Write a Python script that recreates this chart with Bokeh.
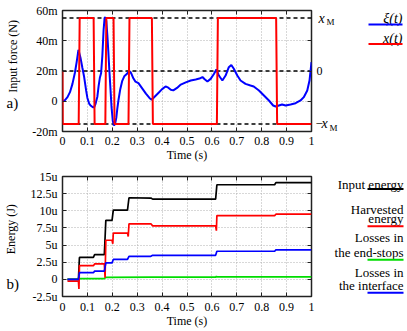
import math
from bokeh.plotting import figure
from bokeh.layouts import column, row
from bokeh.models import Range1d, LinearAxis, FixedTicker
from bokeh.core.properties import value
from bokeh.embed import file_html
from bokeh.resources import INLINE

FONT = "'Liberation Serif'"

# ---------------- ticks / labels ----------------
time_ticks = [0.0, 0.1, 0.2, 0.3, 0.4, 0.5, 0.6, 0.7, 0.8, 0.9, 1.0]
time_labels = ["0", "0.1", "0.2", "0.3", "0.4", "0.5", "0.6", "0.7", "0.8", "0.9", "1"]
force_ticks = [-20, 0, 20, 40, 60]
force_labels = ["-20m", "0", "20m", "40m", "60m"]
energy_ticks = [-2.5, 0, 2.5, 5, 7.5, 10, 12.5, 15]
energy_labels = ["-2.5u", "0", "2.5u", "5u", "7.5u", "10u", "12.5u", "15u"]

# ---------------- a) input force xi(t) [mN] ----------------
xi_t = [0.0, 0.01, 0.02, 0.03, 0.04, 0.05, 0.057, 0.064, 0.072, 0.08, 0.087, 0.095,
        0.1, 0.107, 0.114, 0.122, 0.127, 0.133, 0.14, 0.145, 0.15, 0.155, 0.16, 0.165,
        0.169, 0.172, 0.176, 0.18, 0.184, 0.188, 0.192, 0.197, 0.202, 0.207, 0.211,
        0.216, 0.22, 0.225, 0.232, 0.24, 0.248, 0.258, 0.268, 0.276, 0.285, 0.293,
        0.305, 0.32, 0.335, 0.35, 0.358, 0.37, 0.385, 0.4, 0.414, 0.425, 0.435, 0.445,
        0.46, 0.475, 0.495, 0.515, 0.535, 0.55, 0.562, 0.571, 0.582, 0.595, 0.608,
        0.618, 0.628, 0.642, 0.655, 0.668, 0.678, 0.688, 0.702, 0.715, 0.735, 0.755,
        0.768, 0.789, 0.809, 0.829, 0.846, 0.856, 0.869, 0.882, 0.896, 0.916, 0.936,
        0.956, 0.969, 0.983, 0.992, 1.0]
xi_mN = [0.0, 0.8, 2.7, 6.0, 11.5, 19.0, 26.0, 34.0, 29.0, 22.0, 16.0, 7.0,
         2.2, -1.5, -3.0, -4.0, -4.0, -1.5, 3.0, 10.0, 15.5, 18.5, 30.0, 47.0,
         55.0, 55.5, 53.0, 44.0, 33.0, 21.0, 10.0, -4.0, -13.0, -16.0, -15.0,
         -11.0, -5.0, 1.0, 8.0, 13.5, 16.5, 18.0, 20.0, 18.5, 15.0, 13.0,
         12.0, 8.5, 5.0, 2.0, 1.0, 3.0, 5.5, 8.0, 9.8, 9.0, 7.6, 7.2,
         8.8, 11.0, 12.5, 13.7, 14.4, 15.0, 16.0, 14.5, 13.0, 14.8, 18.0,
         21.0, 17.0, 13.7, 17.0, 22.5, 24.0, 21.5, 17.0, 13.7, 11.5, 10.4,
         9.8, 7.1, 3.8, 0.5, -2.8, -3.5, -2.8, -2.1, -2.8, -2.1, -1.3,
         0.5, 2.7, 7.1, 13.7, 25.8]

# displacement x(t) / x_M
x_t = [0.0, 0.001, 0.065, 0.069, 0.125, 0.129, 0.172, 0.176, 0.205, 0.209,
       0.265, 0.269, 0.359, 0.363, 0.62, 0.624, 0.858, 0.862, 1.0]
x_rel = [0, -1, -1, 1, 1, -1, -1, 1, 1, -1, -1, 1, 1, -1, -1, 1, 1, -1, -1]
x_levels = [1, 0, -1]
# right scale: x = 0 sits at 20 mN, x = x_M sits 35 mN higher
x_zero_force = 20.0
x_M_force = 35.0

# ---------------- b) energies [uJ] ----------------
E_in_t = [0.02, 0.064, 0.068, 0.124, 0.129, 0.168, 0.174, 0.199, 0.204, 0.261, 0.267,
          0.355, 0.362, 0.615, 0.62, 0.852, 0.857, 1.0]
E_in = [0, 0, 3.2, 3.2, 3.6, 3.6, 8.6, 8.6, 10.1, 10.1, 11.9, 11.85, 11.7, 11.7,
        13.8, 13.8, 14.1, 14.1]

E_h_t = [0.02, 0.064, 0.066, 0.068, 0.124, 0.129, 0.168, 0.171, 0.174, 0.199, 0.202,
         0.204, 0.261, 0.264, 0.267, 0.355, 0.362, 0.615, 0.618, 0.62, 0.852, 0.857, 1.0]
E_h = [-0.25, -0.25, -1.4, 2.0, 2.0, 2.25, 2.25, 0.25, 5.7, 5.7, 5.2, 6.75, 6.75,
       6.25, 8.1, 8.1, 7.8, 7.8, 7.1, 9.3, 9.3, 9.5, 9.5]

E_i_t = [0.02, 0.064, 0.068, 0.124, 0.129, 0.168, 0.174, 0.199, 0.204, 0.261, 0.267,
         0.355, 0.362, 0.615, 0.62, 0.852, 0.857, 1.0]
E_i = [0, 0, 0.97, 0.97, 1.2, 1.2, 2.4, 2.4, 2.9, 2.9, 3.36, 3.36, 3.5, 3.5, 4.1, 4.1,
       4.3, 4.3]

E_s_t = [0.02, 0.064, 0.068, 0.168, 0.174, 0.36, 0.615, 0.618, 0.62, 1.0]
E_s = [0, 0, 0.1, 0.1, 0.28, 0.33, 0.33, 0.45, 0.35, 0.35]

BLUE = "#0000ff"
RED = "#ff0000"
GREEN = "#00dd00"
BLACK = "#000000"

# layout (pixels)
LEFT_W = 22
MAIN_L, FRAME_W, MAIN_R = 40, 249, 4
MAIN_W = MAIN_L + FRAME_W + MAIN_R
H_A, TOP_A, BOT_A = 165, 10, 34
H_B, TOP_B, BOT_B = 165, 11, 33
RIGHT_A_W = 35
LEG_A_W = 407 - LEFT_W - MAIN_W - RIGHT_A_W
LEG_B_W = 407 - LEFT_W - MAIN_W


def style_axis(ax, ticks, labels=None, standoff=4):
    ax.ticker = FixedTicker(ticks=ticks)
    ax.axis_line_color = None
    ax.major_tick_in = 4
    ax.major_tick_out = 0
    ax.major_tick_line_color = "#222222"
    ax.minor_tick_line_color = None
    ax.major_label_text_font = FONT
    ax.major_label_text_color = "black"
    ax.axis_label_text_font = FONT
    ax.axis_label_text_font_style = "normal"
    ax.axis_label_text_font_size = "12px"
    ax.axis_label_text_color = "black"
    if labels is None:
        ax.major_label_overrides = {t: "" for t in ticks}
        ax.major_label_text_font_size = "0px"
        ax.major_label_standoff = 0
    else:
        ax.major_label_overrides = dict(zip(ticks, labels))
        ax.major_label_text_font_size = "12px"
        ax.major_label_standoff = standoff


def style_fig(p, yticks):
    p.outline_line_color = "#222222"
    p.outline_line_width = 1.5
    p.background_fill_color = "white"
    p.border_fill_color = "white"
    p.xgrid.ticker = FixedTicker(ticks=time_ticks)
    p.ygrid.ticker = FixedTicker(ticks=yticks)
    for g in (p.xgrid[0], p.ygrid[0]):
        g.grid_line_color = "#b0b0b0"
        g.grid_line_dash = "1 2"
        g.grid_line_width = 1


def side_fig(w, h, y_range=None, top=0, bottom=0):
    if y_range is None:
        y_range = Range1d(h, 0)
    sf = figure(width=w, height=h, x_range=Range1d(0, w), y_range=y_range,
                x_axis_type=None, y_axis_type=None, toolbar_location=None,
                output_backend="svg", min_border=0,
                min_border_top=top, min_border_bottom=bottom)
    sf.outline_line_color = None
    sf.grid.visible = False
    sf.background_fill_color = "white"
    sf.border_fill_color = "white"
    return sf


txt = dict(text_font=value(FONT), text_color="black")

# ================= a) =================
pa = figure(width=MAIN_W, height=H_A, x_range=Range1d(0, 1), y_range=Range1d(-20, 60),
            toolbar_location=None, output_backend="svg",
            min_border_left=MAIN_L, min_border_right=MAIN_R, min_border_top=TOP_A,
            min_border_bottom=BOT_A)
x_range_a = Range1d((-20 - x_zero_force) / x_M_force, (60 - x_zero_force) / x_M_force)
pa.extra_y_ranges = {"x": x_range_a}
style_fig(pa, force_ticks)
style_axis(pa.left[0], force_ticks, force_labels, standoff=5)
style_axis(pa.below[0], time_ticks, time_labels, standoff=5)
pa.below[0].axis_label = "Time (s)"
pa.below[0].axis_label_standoff = 0
ra = LinearAxis()
style_axis(ra, force_ticks)
pa.add_layout(ra, "right")
ta = LinearAxis()
style_axis(ta, time_ticks)
pa.add_layout(ta, "above")

pa.segment(x0=time_ticks[0], x1=time_ticks[-1], y0=x_levels, y1=x_levels,
           y_range_name="x", line_color="black", line_dash="4 3", line_width=1.5)
pa.line(xi_t, xi_mN, line_color=BLUE, line_width=2)
pa.line(x_t, x_rel, y_range_name="x", line_color=RED, line_width=2)

# left strip: y-axis title and panel tag
left_a = side_fig(LEFT_W, H_A)
left_a.text(x=[12.7], y=[62.5], text=["Input force (N)"], angle=math.pi / 2,
            text_align="center", text_baseline="middle", text_font_size="12px", **txt)
left_a.text(x=[6], y=[126], text=["a)"], text_align="left", text_baseline="middle",
            text_font_size="15px", **txt)

# right strip: labels of the x(t) scale, sharing the same range
right_a = side_fig(RIGHT_A_W, H_A, y_range=x_range_a, top=TOP_A, bottom=BOT_A)
right_a.text(x=[3, 6], y=[x_levels[0], x_levels[2]], text=["x", "x"], text_align="left",
             text_baseline="middle", text_font_size="14px", text_font_style="italic", **txt)
right_a.text(x=[0], y=[x_levels[2]], text=["\u2212"], text_align="left",
             text_baseline="middle", text_font_size="13px", **txt)
right_a.text(x=[1], y=[x_levels[1]], text=["0"], text_align="left",
             text_baseline="middle", text_font_size="12px", **txt)
right_a.text(x=[11, 14], y=[x_levels[0], x_levels[2]], y_offset=4, text=["M", "M"],
             text_align="left", text_baseline="middle", text_font_size="9px", **txt)

la = side_fig(LEG_A_W, H_A)
la.text(x=[LEG_A_W - 5] * 2, y=[11, 37.5], text=["\u03be(t)", "x(t)"], text_align="right",
        text_baseline="middle", text_font_size="14px", text_font_style="italic", **txt)
la.segment(x0=[LEG_A_W - 39] * 2, x1=[LEG_A_W - 5] * 2, y0=[19, 45.7], y1=[19, 45.7],
           line_color=[BLUE, RED], line_width=2)

# ================= b) =================
pb = figure(width=MAIN_W, height=H_B, x_range=Range1d(0, 1), y_range=Range1d(-2.5, 15),
            toolbar_location=None, output_backend="svg",
            min_border_left=MAIN_L, min_border_right=MAIN_R, min_border_top=TOP_B,
            min_border_bottom=BOT_B)
style_fig(pb, energy_ticks)
style_axis(pb.left[0], energy_ticks, energy_labels, standoff=5)
style_axis(pb.below[0], time_ticks, time_labels, standoff=6)
pb.below[0].axis_label = "Time (s)"
pb.below[0].axis_label_standoff = 0
rb = LinearAxis()
style_axis(rb, energy_ticks)
pb.add_layout(rb, "right")
tb = LinearAxis()
style_axis(tb, time_ticks)
pb.add_layout(tb, "above")

pb.line(E_in_t, E_in, line_color=BLACK, line_width=1.7)
pb.line(E_s_t, E_s, line_color=GREEN, line_width=1.7)
pb.line(E_h_t, E_h, line_color=RED, line_width=1.7)
pb.line(E_i_t, E_i, line_color=BLUE, line_width=1.7)

left_b = side_fig(LEFT_W, H_B)
left_b.text(x=[10.5], y=[72.5], text=["Energy (J)"], angle=math.pi / 2,
            text_align="center", text_baseline="middle", text_font_size="12px", **txt)
left_b.text(x=[6], y=[148], text=["b)"], text_align="left", text_baseline="middle",
            text_font_size="15px", **txt)

lb = side_fig(LEG_B_W, H_B)
lb.text(x=[LEG_B_W - 4] * 7, y=[10.7, 45.7, 58.3, 84.3, 104, 131.7, 150],
        text=["Input energy", "Harvested", "energy", "Losses in", "the end-stops",
              "Losses in", "the interface"],
        text_align="right", text_baseline="middle", text_font_size="13px", **txt)
lb.segment(x0=[LEG_B_W - 40] * 4, x1=[LEG_B_W - 4] * 4, y0=[17.3, 68.3, 114.3, 160],
           y1=[17.3, 68.3, 114.3, 160],
           line_color=[BLACK, RED, GREEN, BLUE], line_width=2)

layout = column(row(left_a, pa, right_a, la), row(left_b, pb, lb))
open("out.html", "w").write(file_html(layout, INLINE))
